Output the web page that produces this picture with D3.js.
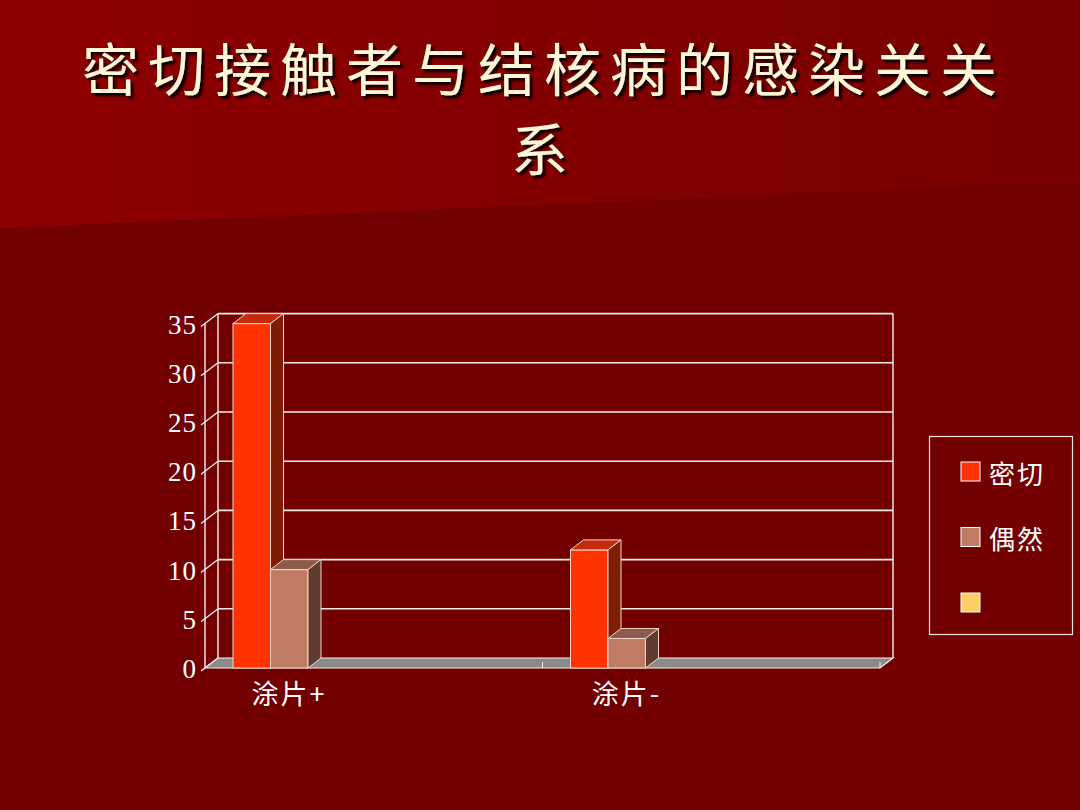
<!DOCTYPE html>
<html><head><meta charset="utf-8">
<script src="https://cdn.jsdelivr.net/npm/d3@7/dist/d3.min.js"></script>
<style>html,body{margin:0;padding:0;background:#720000;}svg{display:block;}</style>
</head><body>
<svg id="chart" width="1080" height="810"></svg>
<script>
// ---- data ----
const titleLines = ["密切接触者与结核病的感染关关", "系"];
const categories = ["涂片+", "涂片-"];
const seriesNames = ["密切", "偶然", ""];
const seriesMiqie = [35, 12];
const seriesOuran = [10, 3];
const seriesThird = [null, null];
const yTicks = [0, 5, 10, 15, 20, 25, 30, 35];

const seriesValues = [seriesMiqie, seriesOuran, seriesThird];
const frontColors = ["#ff3300", "#c07b65", "#ffcc66"];
const topColors = ["#c42a0c", "#8e5a4a", "#d8a850"];
const sideColors = ["#7e1c04", "#5e3a30", "#a07830"];

const svg = d3.select("#chart");

// background
const defs = svg.append("defs");
const g1 = defs.append("linearGradient").attr("id","bgTop").attr("x1","0").attr("x2","1").attr("y1","0").attr("y2","0");
g1.append("stop").attr("offset","0").attr("stop-color","#8e0000");
g1.append("stop").attr("offset","1").attr("stop-color","#780000");
svg.append("rect").attr("width",1080).attr("height",810).attr("fill","#720000");
svg.append("polygon").attr("points","0,0 1080,0 1080,182 0,228").attr("fill","url(#bgTop)");

// title
const shadow = defs.append("filter").attr("id","tshadow").attr("x","-10%").attr("y","-10%").attr("width","130%").attr("height","140%");
shadow.append("feDropShadow").attr("dx",3).attr("dy",3).attr("stdDeviation",1.2).attr("flood-color","#000").attr("flood-opacity",0.9);
svg.append("g").selectAll("text").data(titleLines).join("text")
  .attr("x", 544).attr("y", (d,i)=> 66 + i*80)
  .attr("text-anchor","middle").attr("dominant-baseline","central")
  .attr("font-family","'Noto Sans CJK SC', sans-serif").attr("font-size",57)
  .attr("letter-spacing",9)
  .attr("fill","#fff8d8").attr("filter","url(#tshadow)")
  .text(d=>d);

// scales
const dx = 13, dy = -10;
const y = d3.scaleLinear().domain([0,35]).range([668, 323.6]);
const x0 = d3.scaleBand().domain(categories).range([205, 880]).padding(0);
const groupOffset = 28;
const x1 = d3.scaleBand().domain(seriesNames).range([0, 112.5]).padding(0);

const lineCol = "#f8eeee";
const plot = svg.append("g");

// back wall gridlines
plot.selectAll("line.grid").data(yTicks.filter(t=>t>0)).join("line")
  .attr("x1", 205+dx).attr("x2", 880+dx)
  .attr("y1", d=>y(d)+dy).attr("y2", d=>y(d)+dy)
  .attr("stroke", lineCol).attr("stroke-width",1.6);
// left wall diagonals
plot.selectAll("line.diag").data(yTicks).join("line")
  .attr("x1", 201).attr("y1", d=>y(d)+3)
  .attr("x2", 205+dx).attr("y2", d=>y(d)+dy)
  .attr("stroke", lineCol).attr("stroke-width",1.3);
// verticals
const vlines = [
  [205, y(35), 205, y(0)],
  [205+dx, y(35)+dy, 205+dx, y(0)+dy],
  [880+dx, y(35)+dy, 880+dx, y(0)+dy]
];
plot.selectAll("line.v").data(vlines).join("line")
  .attr("x1",d=>d[0]).attr("y1",d=>d[1]).attr("x2",d=>d[2]).attr("y2",d=>d[3])
  .attr("stroke", lineCol).attr("stroke-width",1.4);

// floor
const fy = y(0);
plot.append("polygon")
  .attr("points", [[205,fy],[880,fy],[880+dx,fy+dy],[205+dx,fy+dy]].map(p=>p.join(",")).join(" "))
  .attr("fill","#8a8a8a").attr("stroke",lineCol).attr("stroke-width",1.2);
// category ticks on floor front
const bounds = categories.map(c=>x0(c)).concat([x0(categories[categories.length-1])+x0.bandwidth()]);
plot.selectAll("line.ct").data(bounds.slice(1)).join("line")
  .attr("x1",d=>d).attr("x2",d=>d).attr("y1",fy-6).attr("y2",fy)
  .attr("stroke",lineCol).attr("stroke-width",1);

// y tick labels
plot.selectAll("text.yt").data(yTicks).join("text")
  .attr("x", 197).attr("y", d=>y(d)+1)
  .attr("text-anchor","end").attr("dominant-baseline","central")
  .attr("font-family","'Liberation Serif', serif").attr("font-size",27)
  .attr("letter-spacing",1)
  .attr("fill","#ffffff").text(d=>d);

// bars
const barStroke = "#f2d6cc";
const bars = [];
categories.forEach((c,ci)=>{
  seriesNames.forEach((s,si)=>{
    const v = seriesValues[si][ci];
    if (v == null) return;
    bars.push({c, si, v, x: x0(c)+groupOffset+x1(s), w: x1.bandwidth()});
  });
});
const bg = plot.selectAll("g.bar").data(bars).join("g");
bg.append("rect")
  .attr("x",d=>d.x).attr("y",d=>y(d.v)).attr("width",d=>d.w).attr("height",d=>y(0)-y(d.v))
  .attr("fill",d=>frontColors[d.si]).attr("stroke",barStroke).attr("stroke-width",1);
bg.append("polygon")
  .attr("points",d=>{const t=y(d.v);return [[d.x,t],[d.x+dx,t+dy],[d.x+d.w+dx,t+dy],[d.x+d.w,t]].map(p=>p.join(",")).join(" ");})
  .attr("fill",d=>topColors[d.si]).attr("stroke",barStroke).attr("stroke-width",1);
bg.append("polygon")
  .attr("points",d=>{const t=y(d.v),b=y(0);return [[d.x+d.w,t],[d.x+d.w+dx,t+dy],[d.x+d.w+dx,b+dy],[d.x+d.w,b]].map(p=>p.join(",")).join(" ");})
  .attr("fill",d=>sideColors[d.si]).attr("stroke",barStroke).attr("stroke-width",1);

// category labels
plot.selectAll("text.cat").data(categories).join("text")
  .attr("x", c=>x0(c)+groupOffset+56).attr("y", 692)
  .attr("text-anchor","middle").attr("dominant-baseline","central")
  .attr("font-family","'Noto Sans CJK SC', sans-serif").attr("font-size",27)
  .attr("letter-spacing",2)
  .attr("fill","#ffffff").text(d=>d);

// legend
const lg = svg.append("g");
lg.append("rect").attr("x",929.5).attr("y",436.5).attr("width",143).attr("height",198)
  .attr("fill","none").attr("stroke","#f0e4e4").attr("stroke-width",1.2);
const items = lg.selectAll("g.li").data(seriesNames).join("g")
  .attr("transform",(d,i)=>`translate(961,${462 + i*65.5})`);
items.append("rect").attr("width",19).attr("height",19)
  .attr("fill",(d,i)=>frontColors[i]).attr("stroke","#ffffff").attr("stroke-width",1);
items.append("text").attr("x",28).attr("y",10)
  .attr("dominant-baseline","central")
  .attr("font-family","'Noto Sans CJK SC', sans-serif").attr("font-size",26)
  .attr("letter-spacing",2)
  .attr("fill","#ffffff").text(d=>d);
</script>
</body></html>
